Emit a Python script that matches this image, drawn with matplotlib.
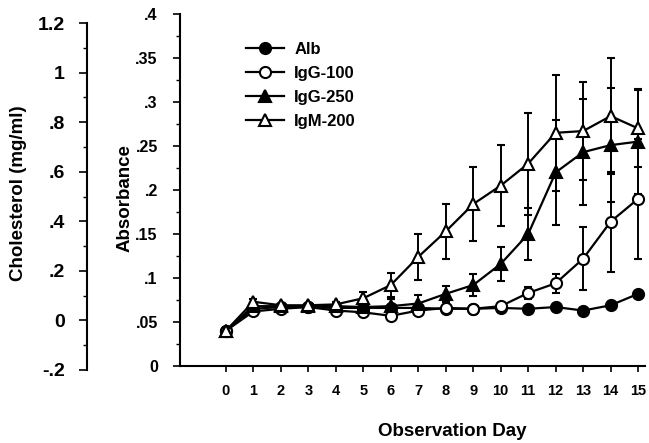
import numpy as np
import matplotlib
matplotlib.use("Agg")
import matplotlib.pyplot as plt
from matplotlib.lines import Line2D
from matplotlib.ticker import MultipleLocator, FixedLocator

plt.rcParams['font.family'] = ['Liberation Sans', 'DejaVu Sans']
plt.rcParams['font.weight'] = 'bold'

# observation days
days = np.arange(16)

# absorbance means
alb = [0.040, 0.065, 0.067, 0.067, 0.066, 0.066, 0.066, 0.066, 0.065, 0.065,
       0.066, 0.065, 0.067, 0.063, 0.069, 0.082]
igg100 = [0.040, 0.062, 0.065, 0.067, 0.063, 0.061, 0.057, 0.063, 0.066, 0.065,
          0.068, 0.083, 0.094, 0.122, 0.164, 0.190]
igg250 = [0.040, 0.068, 0.068, 0.068, 0.068, 0.067, 0.068, 0.071, 0.082, 0.092,
          0.116, 0.150, 0.220, 0.243, 0.251, 0.255]
igm200 = [0.040, 0.073, 0.069, 0.069, 0.070, 0.077, 0.092, 0.124, 0.153, 0.184,
          0.205, 0.230, 0.265, 0.267, 0.284, 0.270]

# error bars (half width)
alb_err = [0.002, 0.002, 0.002, 0.002, 0.002, 0.002, 0.002, 0.002, 0.002, 0.002,
           0.002, 0.002, 0.002, 0.002, 0.002, 0.002]
igg100_err = [0.002, 0.003, 0.002, 0.002, 0.003, 0.003, 0.004, 0.003, 0.002, 0.002,
              0.003, 0.007, 0.011, 0.036, 0.057, 0.068]
igg250_err = [0.002, 0.003, 0.002, 0.002, 0.003, 0.006, 0.008, 0.010, 0.009, 0.013,
              0.019, 0.029, 0.060, 0.060, 0.065, 0.060]
igm200_err = [0.002, 0.003, 0.002, 0.002, 0.003, 0.007, 0.014, 0.026, 0.031, 0.042,
              0.046, 0.058, 0.066, 0.056, 0.066, 0.044]

labels = ['Alb', 'IgG-100', 'IgG-250', 'IgM-200']

W, H = 649, 443
fig = plt.figure(figsize=(W / 100, H / 100), dpi=100)

# main absorbance axes
ax = fig.add_axes([180 / W, 1 - 366 / H, 465 / W, 352 / H])

series = [
    (alb, alb_err, 'o', 'black'),
    (igg100, igg100_err, 'o', 'white'),
    (igg250, igg250_err, '^', 'black'),
    (igm200, igm200_err, '^', 'white'),
]
handles = []
for (vals, err, mk, fc), lab in zip(series, labels):
    ax.errorbar(days, vals, yerr=err, color='black', lw=1.6, elinewidth=1.4,
                capsize=3, capthick=1.4, marker=mk, ms=8, mfc=fc, mec='black',
                mew=1.5, clip_on=False)
    handles.append(Line2D([], [], color='black', lw=1.6, marker=mk, ms=8,
                          mfc=fc, mec='black', mew=1.5, label=lab))

ax.set_xlim(-1.67, 15.25)
ax.set_ylim(0, 0.4)
ax.spines['top'].set_visible(False)
ax.spines['right'].set_visible(False)
ax.spines['left'].set_linewidth(1.5)
ax.spines['bottom'].set_linewidth(1.5)

ax.set_xticks(days)
ax.set_xticklabels([str(d) for d in days], fontsize=10.5)
ax.tick_params(axis='x', direction='out', length=4, width=1.2, pad=9)

ax.set_yticks(np.arange(0, 0.41, 0.05))
ax.yaxis.set_minor_locator(MultipleLocator(0.025))
ax.set_yticklabels(['0', '.05', '.1', '.15', '.2', '.25', '.3', '.35', '.4'],
                   fontsize=11.5)
ax.tick_params(axis='y', which='major', direction='out', length=5, width=1.2, pad=11)
ax.tick_params(axis='y', which='minor', direction='out', length=3, width=1.0)

ax.legend(handles=handles, loc='upper left', bbox_to_anchor=(0.12, 0.95),
          frameon=False, fontsize=12, handlelength=2.3, labelspacing=0.55,
          handletextpad=0.6, numpoints=1, borderaxespad=0.2)

# axis titles
fig.text(125 / W, 1 - 198 / H, 'Absorbance', rotation=90, ha='center',
         va='center', fontsize=13.5)
fig.text(19 / W, 1 - 193 / H, 'Cholesterol (mg/ml)', rotation=90, ha='center',
         va='center', fontsize=13.5)
fig.text(452 / W, 1 - 432 / H, 'Observation Day', ha='center', va='center',
         fontsize=13.5)

# cholesterol axis on the far left
ax2 = fig.add_axes([87 / W, 1 - 370 / H, 0.01, 347 / H])
ax2.set_ylim(-0.2, 1.2)
ax2.patch.set_visible(False)
for s in ['top', 'right', 'bottom']:
    ax2.spines[s].set_visible(False)
ax2.spines['left'].set_linewidth(1.5)
ax2.xaxis.set_visible(False)
ax2.yaxis.set_major_locator(FixedLocator([-0.2, 0, 0.2, 0.4, 0.6, 0.8, 1.0, 1.2]))
ax2.yaxis.set_minor_locator(MultipleLocator(0.1))
ax2.set_yticklabels(['-.2', '0', '.2', '.4', '.6', '.8', '1', '1.2'], fontsize=14)
ax2.tick_params(axis='y', which='major', direction='out', length=6, width=1.2, pad=10)
ax2.tick_params(axis='y', which='minor', direction='out', length=3, width=1.0)

fig.savefig('out.png', dpi=100)
